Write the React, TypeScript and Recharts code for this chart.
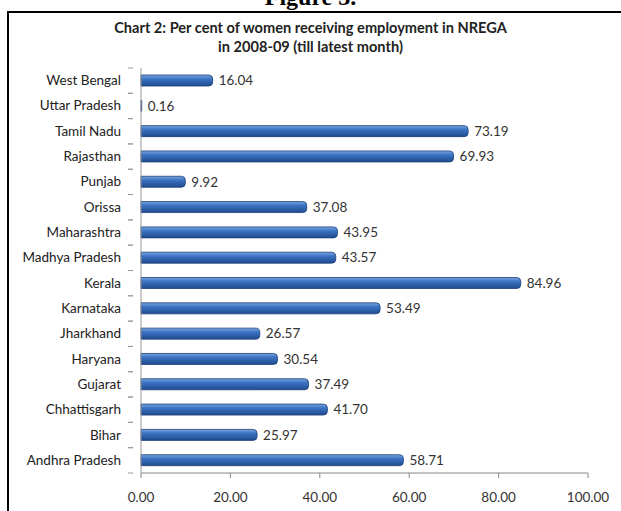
import { BarChart, Bar, XAxis, YAxis, LabelList } from 'recharts'

const states = [
  'West Bengal', 'Uttar Pradesh', 'Tamil Nadu', 'Rajasthan', 'Punjab', 'Orissa',
  'Maharashtra', 'Madhya Pradesh', 'Kerala', 'Karnataka', 'Jharkhand', 'Haryana',
  'Gujarat', 'Chhattisgarh', 'Bihar', 'Andhra Pradesh',
]
const womenShare = [
  16.04, 0.16, 73.19, 69.93, 9.92, 37.08, 43.95, 43.57, 84.96, 53.49, 26.57,
  30.54, 37.49, 41.70, 25.97, 58.71,
]
const xTicks = [0, 20, 40, 60, 80, 100]

const data = states.map((s, i) => ({ state: s, value: womenShare[i] }))

const FONT = 'Lato, "Open Sans", sans-serif'

function StateTick({ x, y, payload }: any) {
  const half = 12.66
  return (
    <g>
      <text x={x - 12} y={y} dy={4.5} textAnchor="end" fill="#222" fontSize={13.5} fontFamily={FONT}>
        {payload.value}
      </text>
      <line x1={x - 5} x2={x} y1={y - half} y2={y - half} stroke="#999" />
      <line x1={x - 5} x2={x} y1={y + half} y2={y + half} stroke="#999" />
    </g>
  )
}

export default function App() {
  return (
    <div style={{ position: 'fixed', top: 0, left: 0, width: 621, height: 511, background: '#fff', overflow: 'hidden' }}>
      <div style={{
        position: 'absolute', top: -16, left: 0, width: 621, textAlign: 'center',
        fontFamily: '"Liberation Serif", serif', fontWeight: 'bold', fontSize: 24,
      }}>
        Figure 3.
      </div>
      <div style={{
        position: 'absolute', top: 11, left: 7, width: 614, height: 500,
        borderTop: '2px solid #000', borderLeft: '2px solid #000', background: '#fff',
      }} />
      <div style={{
        position: 'absolute', top: 18, left: 0, width: 621, textAlign: 'center',
        fontFamily: FONT, fontWeight: 'bold', fontSize: 14.6, lineHeight: '19px', color: '#222',
      }}>
        Chart 2: Per cent of women receiving employment in NREGA<br />in 2008-09 (till latest month)
      </div>
      <div style={{ position: 'absolute', top: 0, left: 0 }}>
        <BarChart
          width={621}
          height={511}
          data={data}
          layout="vertical"
          margin={{ top: 68, right: 33, bottom: 0, left: 0 }}
        >
          <defs>
            <linearGradient id="barGrad" x1="0" y1="0" x2="0" y2="1">
              <stop offset="0%" stopColor="#7aa6e0" />
              <stop offset="35%" stopColor="#3c74c4" />
              <stop offset="100%" stopColor="#1f4b8e" />
            </linearGradient>
          </defs>
          <XAxis
            type="number"
            domain={[0, 100]}
            ticks={xTicks}
            height={38}
            tickFormatter={(v: number) => v.toFixed(2)}
            stroke="#888"
            tickSize={5}
            tickMargin={14}
            tick={{ fill: '#333', fontSize: 13.5, fontFamily: FONT }}
          />
          <YAxis
            type="category"
            dataKey="state"
            width={141}
            stroke="#999"
            tickLine={false}
            tick={<StateTick />}
          />
          <Bar
            dataKey="value"
            fill="url(#barGrad)"
            stroke="#1c3f78"
            strokeWidth={0.8}
            barSize={11}
            radius={[0, 4, 4, 0]}
            isAnimationActive={false}
          >
            <LabelList
              dataKey="value"
              position="right"
              offset={6}
              formatter={(v: any) => Number(v).toFixed(2)}
              style={{ fill: '#333', fontSize: 13.5, fontFamily: FONT }}
            />
          </Bar>
        </BarChart>
      </div>
    </div>
  )
}
